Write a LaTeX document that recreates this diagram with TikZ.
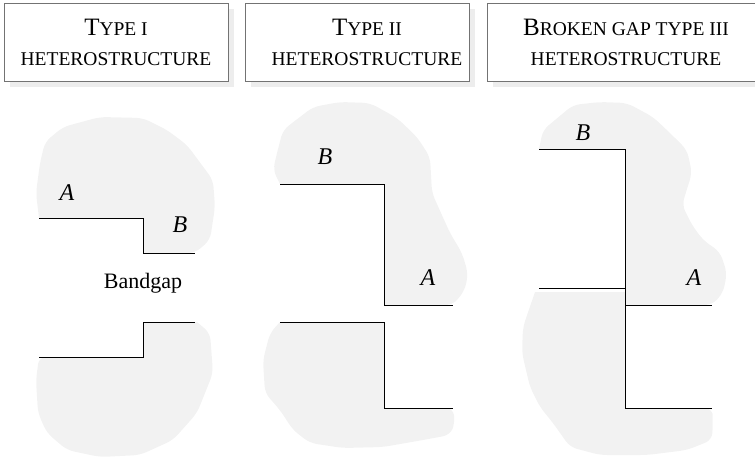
\documentclass[tikz,border=0pt]{standalone}
\usepackage{fontspec}
\setmainfont{Liberation Serif}
\usetikzlibrary{shadows}
\newcommand{\smc}[1]{{\fontsize{19.5}{30}\selectfont #1}}

\begin{document}
\begin{tikzpicture}[x=1pt, y=-1pt,
  blob/.style={fill=black!5},
  soft/.style={rounded corners=7pt},
  band/.style={line width=1pt},
  hdr/.style={draw=black!55, line width=0.9pt, fill=white, minimum height=78pt, inner sep=0pt,
              drop shadow={shadow xshift=6pt, shadow yshift=-6pt, fill=black!7, opacity=1}},
  ttl/.style={anchor=north, inner sep=0pt, align=center, font=\fontsize{25}{30}\selectfont},
  lbl/.style={font=\fontsize{24}{28}\selectfont\itshape, inner sep=0pt}
]
\useasboundingbox (0,0) rectangle (755,461);

% header boxes
\node[hdr, minimum width=224pt] (boxI) at (116,42) {};
\node[hdr, minimum width=224pt] (boxII) at (357,42) {};
\node[hdr, minimum width=270pt] (boxIII) at (622,42) {};
\node[ttl] (titleI) at (116,18.5) {T\smc{YPE I}\\\smc{HETEROSTRUCTURE}};
\node[ttl] (titleII) at (367,18.5) {T\smc{YPE II}\\\smc{HETEROSTRUCTURE}};
\node[ttl] (titleIII) at (626,18.5) {B\smc{ROKEN GAP TYPE III}\\\smc{HETEROSTRUCTURE}};

% type I
\fill[blob] (195,253) -- (143,253) -- (143,218) -- (39,218) [soft] -- (36,193) -- (40,163) -- (45,142)
  -- (63,127) -- (100,117) -- (143,118) -- (167,130) -- (187,145) -- (213,180) -- (215,207) -- (210,240) -- cycle;
\fill[blob] (39,357) -- (143,357) -- (143,322) -- (197,322) [soft] -- (210,333) -- (213,373) -- (197,413)
  -- (173,440) -- (140,455) -- (100,457) -- (67,450) -- (47,433) -- (38,413) -- (36,380) -- cycle;
\draw[band] (39,218) -- (143,218) -- (143,253) -- (195,253);
\draw[band] (39,357) -- (143,357) -- (143,322) -- (195,322);
\node[lbl] (aI) at (67,193) {A};
\node[lbl] (bI) at (180,225) {B};
\node[font=\fontsize{22}{26}\selectfont] (gapI) at (143,283) {Bandgap};

% type II
\fill[blob] (453,305) -- (384,305) -- (384,184) -- (280,184) [soft] -- (273,170) -- (277,153) -- (283,130)
  -- (313,107) -- (340,102) -- (370,103) -- (397,118) -- (417,137) -- (430,157) -- (432,193) -- (450,233)
  -- (462,253) -- (468,273) -- (465,290) -- cycle;
\fill[blob] (453,408) -- (384,408) -- (384,322) -- (280,322) [soft] -- (270,333) -- (263,360) -- (265,393)
  -- (280,410) -- (293,430) -- (310,443) -- (343,448) -- (383,447) -- (423,440) -- (450,435) -- (455,423) -- cycle;
\draw[band] (280,184) -- (384,184) -- (384,305) -- (453,305);
\draw[band] (280,322) -- (384,322) -- (384,408) -- (453,408);
\node[lbl] (bII) at (325,157) {B};
\node[lbl] (aII) at (428,278) {A};

% broken gap type III
\fill[blob] (712,305) -- (625,305) -- (625,149) -- (539,149) [soft] -- (543,130) -- (573,105) -- (600,102)
  -- (627,103) -- (653,117) -- (670,133) -- (687,150) -- (692,173) -- (682,205) -- (692,225) -- (703,240)
  -- (720,252) -- (727,273) -- (723,293) -- cycle;
\fill[blob] (712,408) -- (625,408) -- (625,292) -- (535,292) [soft] -- (523,327) -- (522,353) -- (530,387)
  -- (540,407) -- (553,423) -- (570,447) -- (600,455) -- (647,455) -- (687,450) -- (712,440) -- (713,420) -- cycle;
\draw[band] (539,149) -- (625,149) -- (625,305) -- (712,305);
\draw[band] (539,288) -- (625,288) -- (625,408) -- (712,408);
\node[lbl] (bIII) at (583,133) {B};
\node[lbl] (aIII) at (694,278) {A};
\end{tikzpicture}
\end{document}
